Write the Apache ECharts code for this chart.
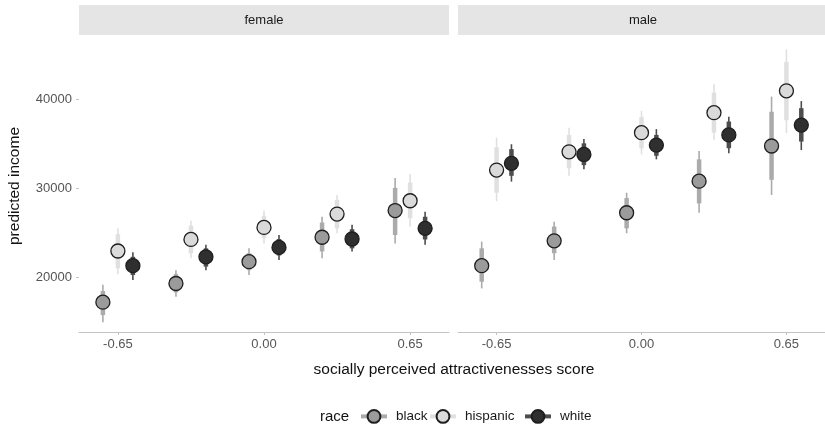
<!DOCTYPE html>
<html>
<head>
<meta charset="utf-8">
<script src="https://cdn.jsdelivr.net/npm/echarts@6/dist/echarts.min.js"></script>
<style>
html,body{margin:0;padding:0;background:#fff;}
#chart{width:825px;height:429px;}
</style>
</head>
<body>
<div id="chart"></div>
<script>
// x categories (socially perceived attractiveness score)
const scores = [-0.65, -0.325, 0, 0.325, 0.65];
const xTicks = [-0.65, 0, 0.65];
const yTicks = [20000, 30000, 40000];
const races = ['black', 'hispanic', 'white'];
const facets = ['female', 'male'];

// rows: [mean, lo95, hi95, lo66, hi66] for each score
const femaleBlack = [
  [17200, 14950, 19150, 15750, 18450],
  [19300, 17800, 20800, 18300, 20350],
  [21750, 20250, 23250, 20800, 22700],
  [24500, 22150, 26800, 22900, 26150],
  [27500, 23800, 31150, 24750, 30050]
];
const femaleHispanic = [
  [22950, 20350, 25500, 21000, 24850],
  [24250, 22150, 26350, 22700, 25800],
  [25600, 23800, 27500, 24400, 26900],
  [27100, 24950, 29250, 25500, 28700],
  [28600, 25700, 31600, 26650, 30650]
];
const femaleWhite = [
  [21300, 19700, 22800, 20250, 22300],
  [22300, 20800, 23650, 21200, 23250],
  [23350, 21950, 24750, 22450, 24300],
  [24300, 22900, 25900, 23250, 25400],
  [25500, 23650, 27350, 24250, 26800]
];
const maleBlack = [
  [21300, 18750, 24000, 19500, 23250],
  [24100, 21950, 26250, 22700, 25700],
  [27250, 24950, 29500, 25500, 28900],
  [30800, 27250, 34200, 28300, 33250],
  [34750, 29250, 40300, 30950, 38600]
];
const maleHispanic = [
  [32050, 28550, 35700, 29500, 34600],
  [34100, 31400, 36800, 32250, 36000],
  [36250, 33800, 38700, 34500, 38000],
  [38500, 35450, 41700, 36250, 40750],
  [40950, 36200, 45600, 37650, 44200]
];
const maleWhite = [
  [32800, 30750, 34950, 31400, 34400],
  [33800, 32150, 35550, 32600, 35050],
  [34850, 33250, 36650, 33650, 36000],
  [36000, 33950, 38050, 34500, 37500],
  [37100, 34300, 39800, 35250, 39000]
];

const facetData = [
  [femaleBlack, femaleHispanic, femaleWhite],
  [maleBlack, maleHispanic, maleWhite]
];

const FONT = '"Liberation Sans", Arial, Helvetica, sans-serif';
const fillColors = ['#9b9b9b', '#dadada', '#2f2f2f'];
const intervalColors = ['#ababab', '#e0e0e0', '#4d4d4d'];
const dodge = [-0.0667, 0, 0.0667];
const X_MIN = -0.823, X_MAX = 0.823;
const Y_MIN = 13850, Y_MAX = 47000;

const chart = echarts.init(document.getElementById('chart'), null, {renderer: 'canvas'});

const grids = [
  {left: 79, top: 37, width: 370, height: 295},
  {left: 458, top: 37, width: 370, height: 295}
];

const xAxes = facets.map((f, i) => ({
  type: 'value', gridIndex: i, min: X_MIN, max: X_MAX,
  axisLine: {show: true, onZero: false, lineStyle: {color: '#c4c4c4', width: 1}},
  axisTick: {show: true, length: 3, customValues: xTicks, lineStyle: {color: '#c4c4c4'}},
  axisLabel: {show: true, customValues: xTicks, margin: 6, color: '#555', fontSize: 13,
    fontFamily: FONT, formatter: v => Number(v).toFixed(2)},
  splitLine: {show: false}
}));

const yAxes = facets.map((f, i) => ({
  type: 'value', gridIndex: i, min: Y_MIN, max: Y_MAX,
  axisLine: {show: false, onZero: false},
  axisTick: {show: i === 0, length: 3, customValues: yTicks, lineStyle: {color: '#c4c4c4'}},
  axisLabel: {show: i === 0, customValues: yTicks, margin: 7, color: '#555', fontSize: 13,
    fontFamily: FONT, formatter: v => String(Math.round(v))},
  splitLine: {show: false}
}));

function renderInterval(color) {
  return function (params, api) {
    const x = api.value(0);
    const a = api.coord([x, api.value(1)]);
    const b = api.coord([x, api.value(2)]);
    const c = api.coord([x, api.value(3)]);
    const d = api.coord([x, api.value(4)]);
    return {
      type: 'group',
      children: [
        {type: 'line', shape: {x1: a[0], y1: a[1], x2: b[0], y2: b[1]},
          style: {stroke: color, lineWidth: 1.6}},
        {type: 'line', shape: {x1: c[0], y1: c[1], x2: d[0], y2: d[1]},
          style: {stroke: color, lineWidth: 4.5}}
      ]
    };
  };
}

const series = [];
facets.forEach((f, fi) => {
  races.forEach((r, ri) => {
    const rows = facetData[fi][ri];
    series.push({
      name: r, type: 'line', xAxisIndex: fi, yAxisIndex: fi,
      data: rows.map((row, k) => [scores[k] + dodge[ri], row[0]]),
      symbol: 'circle', symbolSize: 14, showSymbol: true,
      lineStyle: {opacity: 0, width: 0},
      itemStyle: {color: fillColors[ri], borderColor: '#1e1e1e', borderWidth: 1.3},
      z: 5 + ri, animation: false, silent: true
    });
  });
});
facets.forEach((f, fi) => {
  races.forEach((r, ri) => {
    const rows = facetData[fi][ri];
    series.push({
      name: r, type: 'custom', xAxisIndex: fi, yAxisIndex: fi,
      renderItem: renderInterval(intervalColors[ri]),
      data: rows.map((row, k) => [scores[k] + dodge[ri], row[1], row[2], row[3], row[4]]),
      itemStyle: {color: intervalColors[ri]},
      z: 2 + ri, animation: false, silent: true
    });
  });
});

const legendLefts = [359, 428, 523];
const legends = races.map((r, ri) => ({
  left: legendLefts[ri], top: 409, padding: 0,
  itemWidth: 26, itemHeight: 16, itemGap: 0,
  data: [{name: r, lineStyle: {color: intervalColors[ri], width: 4, opacity: 1}}],
  textStyle: {color: '#1a1a1a', fontSize: 13.5, fontFamily: FONT, padding: [0, 0, 0, 4]},
  selectedMode: false
}));

const graphic = [
  {type: 'rect', shape: {x: 79, y: 5, width: 370, height: 30}, style: {fill: '#e5e5e5'}, silent: true},
  {type: 'rect', shape: {x: 458, y: 5, width: 370, height: 30}, style: {fill: '#e5e5e5'}, silent: true},
  {type: 'text', x: 264, y: 20, style: {text: 'female', fill: '#1a1a1a', font: '13px ' + FONT, align: 'center', verticalAlign: 'middle'}},
  {type: 'text', x: 643, y: 20, style: {text: 'male', fill: '#1a1a1a', font: '13px ' + FONT, align: 'center', verticalAlign: 'middle'}},
  {type: 'text', x: 454, y: 370, style: {text: 'socially perceived attractivenesses score', fill: '#111', font: '15.5px ' + FONT, align: 'center', verticalAlign: 'middle'}},
  {type: 'text', x: 15, y: 186, rotation: Math.PI / 2, style: {text: 'predicted income', fill: '#111', font: '15.5px ' + FONT, align: 'center', verticalAlign: 'middle'}},
  {type: 'text', x: 320, y: 417, style: {text: 'race', fill: '#111', font: '15px ' + FONT, align: 'left', verticalAlign: 'middle'}}
];

chart.setOption({
  animation: false,
  backgroundColor: '#ffffff',
  grid: grids,
  xAxis: xAxes,
  yAxis: yAxes,
  legend: legends,
  graphic: graphic,
  series: series
});
</script>
</body>
</html>
